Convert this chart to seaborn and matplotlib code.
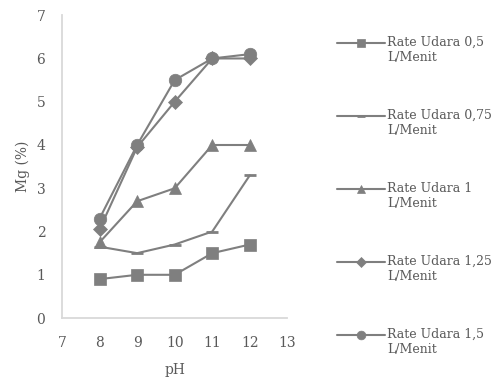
import matplotlib
matplotlib.use("Agg")
import matplotlib.pyplot as plt
import seaborn as sns
from matplotlib.legend_handler import HandlerLine2D

ph = [8, 9, 10, 11, 12]
rate_05 = [0.9, 1.0, 1.0, 1.5, 1.7]
rate_075 = [1.65, 1.5, 1.7, 2.0, 3.3]
rate_1 = [1.75, 2.7, 3.0, 4.0, 4.0]
rate_125 = [2.05, 3.95, 5.0, 6.0, 6.0]
rate_15 = [2.3, 4.0, 5.5, 6.0, 6.1]
labels = ["Rate Udara 0,5\nL/Menit", "Rate Udara 0,75\nL/Menit", "Rate Udara 1\nL/Menit",
          "Rate Udara 1,25\nL/Menit", "Rate Udara 1,5\nL/Menit"]


# put the legend marker next to the first text line instead of the middle
class TopLineHandler(HandlerLine2D):
    def create_artists(self, legend, orig_handle, xdescent, ydescent, width, height, fontsize, trans):
        return super().create_artists(legend, orig_handle, xdescent, ydescent - 10.9,
                                      width, height, fontsize, trans)


sns.set_style("white")
plt.rcParams['font.family'] = ['DejaVu Serif']

grey = "#7f7f7f"
txt = "#595959"
fig = plt.figure(figsize=(5.02, 3.80), dpi=100)
ax = fig.add_axes([0.1235, 0.163, 0.449, 0.797])

series = [rate_05, rate_075, rate_1, rate_125, rate_15]
markers = ["s", "_", "^", "D", "o"]
msizes = [9, 9, 9, 7, 9]
for vals, lab, m, ms in zip(series, labels, markers, msizes):
    sns.lineplot(x=ph, y=vals, ax=ax, color=grey, marker=m, markersize=ms,
                 markeredgecolor=grey, markeredgewidth=2 if m == "_" else 0.5,
                 linewidth=1.5, label=lab)

ax.set_xlim(7, 13)
ax.set_ylim(0, 7)
ax.set_xticks(range(7, 14))
ax.set_yticks(range(0, 8))
ax.tick_params(axis="y", length=0, labelsize=10, colors=txt, pad=12)
ax.tick_params(axis="x", length=0, labelsize=10, colors=txt, pad=13)
for s in ["top", "right"]:
    ax.spines[s].set_visible(False)
for s in ["left", "bottom"]:
    ax.spines[s].set_color("#d9d9d9")
    ax.spines[s].set_linewidth(1.3)
ax.set_xlabel("pH", fontsize=10, color=txt, labelpad=9)
ax.set_ylabel("Mg (%)", fontsize=10, color=txt, labelpad=5)

handles, labs = ax.get_legend_handles_labels()
ax.legend(handles, labs, loc="upper left", bbox_to_anchor=(0.649, 0.935),
          bbox_transform=fig.transFigure, frameon=False, fontsize=9, labelcolor=txt,
          handlelength=3.84, labelspacing=3.6, handletextpad=0.15, markerscale=0.7,
          borderpad=0.4, handler_map={h: TopLineHandler() for h in handles})

fig.savefig("out.png", dpi=100)
